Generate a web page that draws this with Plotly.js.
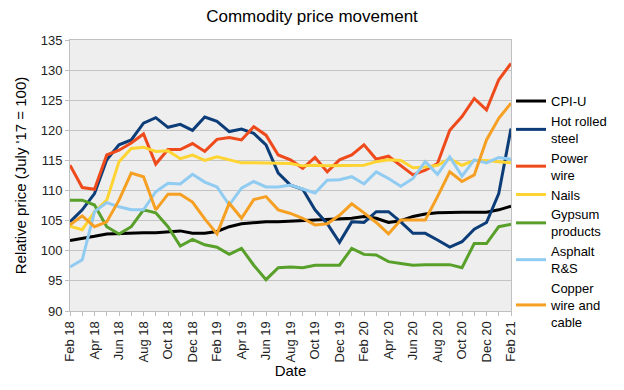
<!DOCTYPE html>
<html>
<head>
<meta charset="utf-8">
<script src="https://cdn.plot.ly/plotly-3.0.1.min.js"></script>
<style>html,body{margin:0;padding:0;background:#fff;}#chart{width:624px;height:390px;}</style>
</head>
<body>
<div id="chart"></div>
<script>
const months = ["Feb 18","Mar 18","Apr 18","May 18","Jun 18","Jul 18","Aug 18","Sep 18","Oct 18","Nov 18","Dec 18","Jan 19",
"Feb 19","Mar 19","Apr 19","May 19","Jun 19","Jul 19","Aug 19","Sep 19","Oct 19","Nov 19","Dec 19","Jan 20",
"Feb 20","Mar 20","Apr 20","May 20","Jun 20","Jul 20","Aug 20","Sep 20","Oct 20","Nov 20","Dec 20","Jan 21","Feb 21"];

const cpiU = [101.7,102.0,102.4,102.8,102.9,102.9,103.0,103.0,103.1,103.3,102.9,102.9,
103.2,104.0,104.5,104.7,104.8,104.8,104.9,105.0,105.1,105.2,105.2,105.4,
105.7,105.4,104.7,105.0,105.7,106.1,106.3,106.4,106.4,106.4,106.4,106.8,107.4];
const hotRolledSteel = [104.8,106.8,109.5,115.1,117.6,118.4,121.2,122.1,120.5,121.0,120.0,122.2,
121.5,119.8,120.2,119.5,117.6,112.9,110.9,110.2,106.8,104.5,101.4,104.8,
104.7,106.5,106.5,104.8,102.9,102.9,101.8,100.6,101.5,103.6,104.7,109.5,120.3];
const powerWire = [114.2,110.5,110.2,115.9,116.7,117.9,119.4,114.4,116.8,116.8,117.8,116.5,
118.5,118.8,118.4,120.6,119.2,115.9,115.1,113.7,115.5,113.1,115.1,115.9,
117.6,115.2,115.7,114.2,112.6,113.4,114.5,120.0,122.3,125.3,123.4,128.4,131.1];
const nails = [104.1,103.5,106.5,108.4,114.8,117.0,117.2,116.5,116.6,115.3,115.9,115.0,
115.6,115.1,114.6,114.6,114.6,114.6,114.5,114.1,114.2,114.1,114.1,114.1,
114.2,114.8,115.1,115.0,113.8,113.9,114.2,115.3,114.2,115.0,115.0,114.8,114.6];
const gypsumProducts = [108.4,108.4,107.6,104.0,102.8,104.0,106.8,106.3,104.0,100.8,101.9,101.0,
100.6,99.4,100.4,97.6,95.2,97.2,97.3,97.2,97.6,97.6,97.6,100.4,
99.4,99.3,98.2,97.9,97.6,97.7,97.7,97.7,97.2,101.2,101.2,104.0,104.4];
const asphaltRS = [97.3,98.5,106.5,108.0,107.3,106.8,106.8,109.8,111.2,111.1,112.7,111.4,
110.6,107.6,110.4,111.5,110.6,110.6,110.9,110.2,109.6,111.7,111.8,112.3,
111.1,113.1,112.0,110.7,112.0,114.8,112.7,115.6,112.4,115.1,114.6,115.5,115.2];
const copperWire = [104.3,105.8,104.0,104.8,108.4,112.9,112.3,106.8,109.4,109.4,108.1,105.3,
102.8,107.9,105.4,108.5,109.0,106.8,106.2,105.4,104.3,104.5,105.9,107.8,
106.3,104.7,102.8,105.1,105.1,105.1,109.0,113.1,111.5,112.6,118.4,122.0,124.5];

const seriesNames = ["CPI-U","Hot rolled<br>steel","Power<br>wire","Nails","Gypsum<br>products","Asphalt<br>R&S","Copper<br>wire and<br>cable"];
const seriesValues = [cpiU, hotRolledSteel, powerWire, nails, gypsumProducts, asphaltRS, copperWire];
const colors = ["#000000","#0d3d78","#ef4a1c","#fdd431","#58a02a","#90cbf1","#f6a023"];

const traces = seriesValues.map((v,k)=>({
  x: months, y: v, name: seriesNames[k], type: "scatter", mode: "lines",
  line: {color: colors[k], width: 3}
}));

const tickText = months.map((m,i)=> i%2===0 ? m : "");

const layout = {
  width: 624, height: 390,
  margin: {l: 70, r: 109, t: 40, b: 79},
  paper_bgcolor: "#ffffff",
  plot_bgcolor: "#eeeeee",
  font: {family: "Liberation Sans, Arial, sans-serif", color: "#000", size: 13},
  title: {text: "Commodity price movement", x: 0.5, xanchor: "center", y: 0.975, yanchor: "top",
          font: {size: 17, color: "#000"}},
  showlegend: true,
  legend: {x: 1.0, xanchor: "left", y: 0.83, yanchor: "top", font: {size: 13, color: "#000"},
           bgcolor: "rgba(0,0,0,0)", tracegroupgap: 0},
  xaxis: {
    type: "category", categoryorder: "array", categoryarray: months,
    range: [0, 36],
    tickmode: "array", tickvals: months, ticktext: tickText,
    tickangle: -90, ticks: "outside", ticklen: 4, tickcolor: "#bfbfbf",
    tickfont: {size: 13, color: "#222"},
    showgrid: false, showline: true, mirror: true, linecolor: "#c0c0c0", linewidth: 1,
    title: {text: "Date", font: {size: 15, color: "#000"}, standoff: 4}
  },
  yaxis: {
    range: [90, 135], dtick: 5, tick0: 90,
    ticks: "outside", ticklen: 4, tickcolor: "#bfbfbf",
    tickfont: {size: 13, color: "#222"},
    showgrid: true, gridcolor: "#c4c4c4", gridwidth: 1,
    showline: true, mirror: true, linecolor: "#c0c0c0", linewidth: 1,
    zeroline: false,
    title: {text: "Relative price (July '17 = 100)", font: {size: 15, color: "#000"}, standoff: 10}
  }
};

Plotly.newPlot("chart", traces, layout, {displayModeBar: false, staticPlot: true});
</script>
</body>
</html>
